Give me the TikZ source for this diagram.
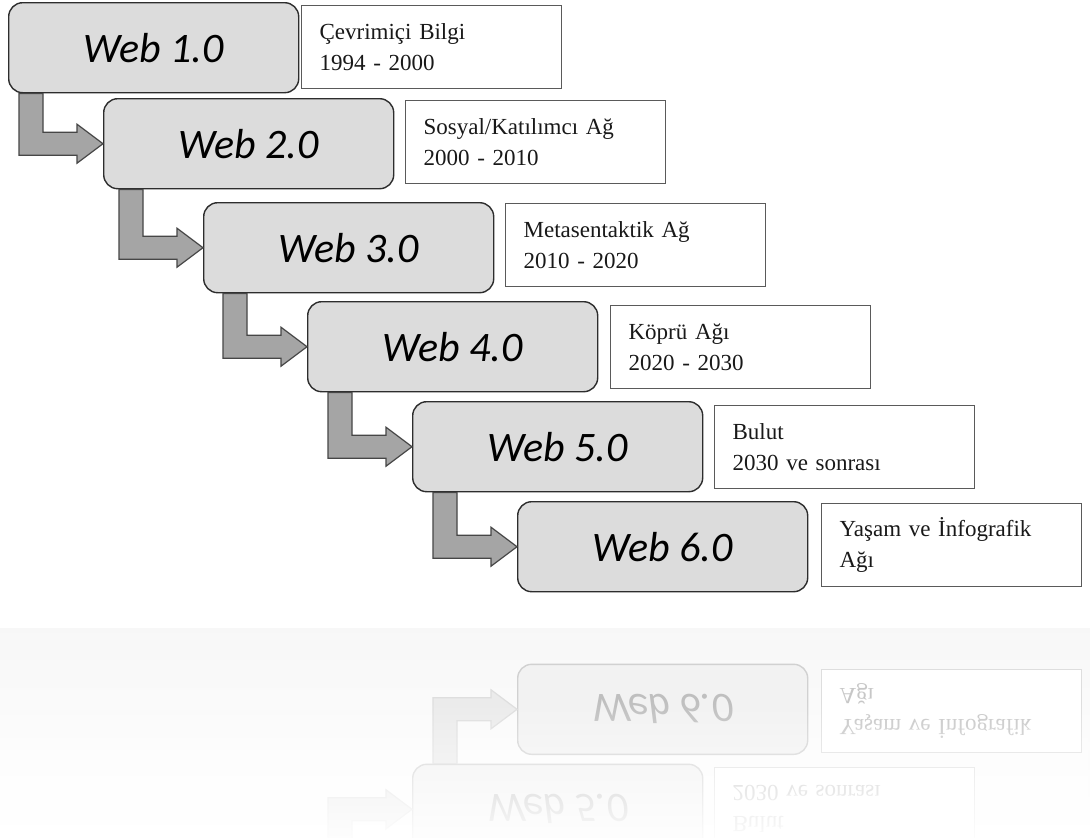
\documentclass[tikz,border=0pt]{standalone}
\usepackage{fontspec}
\setmainfont{Liberation Serif}
\newfontfamily\calfont{Carlito}
\usetikzlibrary{positioning,calc,fadings}
\definecolor{boxFill}{RGB}{220,220,220}
\definecolor{boxLine}{RGB}{45,45,45}
\definecolor{arrowFill}{RGB}{165,165,165}
\definecolor{arrowLine}{RGB}{70,70,70}
\definecolor{infoLine}{RGB}{90,90,90}
\tikzset{
  webbox/.style={rectangle, rounded corners=14pt, draw=boxLine, fill=boxFill, line width=1.4pt,
                 minimum width=290pt, minimum height=90pt, anchor=north west,
                 font=\calfont\itshape\fontsize{42}{42}\selectfont},
  infobox/.style={rectangle, draw=infoLine, fill=white, line width=1.2pt, minimum height=83pt,
                  text width=224pt, inner xsep=18pt, align=left, anchor=north west,
                  text=black!90, font=\fontsize{23}{31}\selectfont},
  webarrow/.style={draw=arrowLine, fill=arrowFill, line width=1.2pt, line join=miter},
}
\newcommand{\webstairs}{%
  \node[webbox] (w1) at (8,2) {Web 1.0};
  \node[webbox] (w2) at (103,98) {Web 2.0};
  \node[webbox] (w3) at (203,202) {Web 3.0};
  \node[webbox] (w4) at (307,301) {Web 4.0};
  \node[webbox] (w5) at (412,401) {Web 5.0};
  \node[webbox] (w6) at (517,501) {Web 6.0};
  \node[infobox] (i1) at (301,5) {Çevrimiçi Bilgi\\1994 - 2000};
  \node[infobox] (i2) at (405,100) {Sosyal/Katılımcı Ağ\\2000 - 2010};
  \node[infobox] (i3) at (505,203) {Metasentaktik Ağ\\2010 - 2020};
  \node[infobox] (i4) at (610,305) {Köprü Ağı\\2020 - 2030};
  \node[infobox] (i5) at (714,405) {Bulut\\2030 ve sonrası};
  \node[infobox] (i6) at (821,503) {Yaşam ve İnfografik\\Ağı};
  % L-shaped block arrows
  \foreach \i/\j in {1/2,2/3,3/4,4/5,5/6}{
    \path ([xshift=-60pt,yshift=11.5pt]w\j.west) coordinate (r\i);
    \draw[webarrow] (w\j.west) -- ++(-26,-19.5) -- ++(0,8) -- (r\i)
      -- (r\i |- w\i.south) -- ++(-24,0)
      |- ([xshift=-26pt,yshift=-11.5pt]w\j.west) -- ++(0,8) -- cycle;
  }
}

\begin{document}
\begin{tikzpicture}[x=1pt, y=-1pt]
  \fill[white] (0,0) rectangle (1090,838);
  \useasboundingbox (0,0) rectangle (1090,838);
  \fill[top color=black!3, bottom color=white] (0,628) rectangle (1090,838);
  \webstairs
  % mirrored copy below
  \begin{scope}[transform canvas={yshift=-1256pt, yscale=-1}, name prefix=r-,
      webbox/.append style={draw=black!18, fill=black!5, text=black!25},
      infobox/.append style={draw=black!13, text=black!22},
      webarrow/.append style={draw=black!13, fill=black!8}]
    \webstairs
  \end{scope}
  \fill[white, path fading=north] (0,700) rectangle (1090,850);
\end{tikzpicture}
\end{document}
